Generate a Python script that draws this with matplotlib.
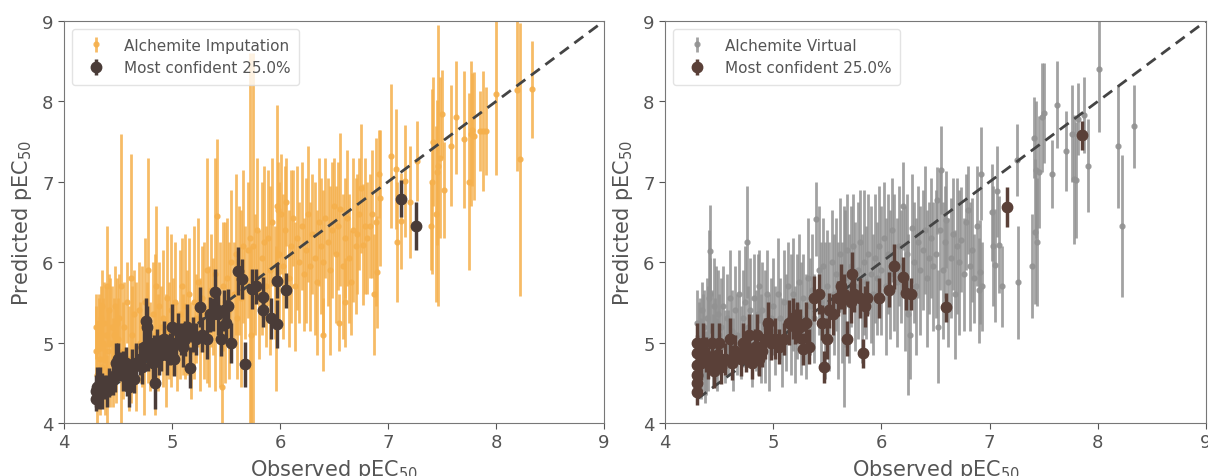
import matplotlib
matplotlib.use("Agg")
import matplotlib.pyplot as plt

# ---- left panel: Alchemite Imputation (all points) ----
imp_obs = [
    4.30, 4.30, 4.31, 4.32, 4.33, 4.34, 4.35, 4.36, 4.37, 4.38,
    4.39, 4.40, 4.41, 4.42, 4.43, 4.44, 4.45, 4.46, 4.47, 4.48,
    4.49, 4.50, 4.32, 4.35, 4.40,
    4.51, 4.53, 4.55, 4.56, 4.58, 4.60, 4.62, 4.63, 4.65, 4.67,
    4.69, 4.70, 4.72, 4.74, 4.75, 4.77, 4.78, 4.80, 4.82, 4.84,
    4.85, 4.87, 4.88, 4.90, 4.92, 4.94, 4.95, 4.97, 4.99,
    5.01, 5.03, 5.05, 5.07, 5.09, 5.10, 5.12, 5.14, 5.16, 5.18,
    5.20, 5.22, 5.24, 5.26, 5.28, 5.30, 5.32, 5.34, 5.36, 5.38,
    5.40, 5.42, 5.44, 5.46, 5.47, 5.49,
    5.51, 5.53, 5.55, 5.57, 5.59, 5.60, 5.62, 5.64, 5.66, 5.68,
    5.70, 5.72, 5.75, 5.73, 5.77, 5.79, 5.81, 5.83, 5.85, 5.87,
    5.89, 5.91, 5.93, 5.95, 5.97, 5.99, 5.98, 5.96,
    6.01, 6.03, 6.05, 6.06, 6.08, 6.10, 6.12, 6.14, 6.16, 6.18,
    6.20, 6.22, 6.24, 6.26, 6.28, 6.30, 6.32, 6.34, 6.36, 6.38,
    6.40, 6.40, 6.42, 6.44, 6.46, 6.48, 6.50,
    6.52, 6.54, 6.56, 6.58, 6.60, 6.62, 6.64, 6.66, 6.68, 6.70,
    6.71, 6.73, 6.75, 6.77, 6.79, 6.81, 6.83, 6.85, 6.87, 6.89,
    6.90, 6.92, 6.93, 6.60, 6.55,
    7.03, 7.07, 7.08, 7.12, 7.16, 7.20, 7.27, 7.40, 7.41, 7.42,
    7.44, 7.45, 7.46, 7.48, 7.50, 7.52, 7.58, 7.63, 7.70, 7.75,
    7.77, 7.78, 7.80, 7.85, 7.88, 7.91, 8.00, 8.19, 8.22, 8.33,
]
imp_pred = [
    5.20, 4.90, 4.60, 5.10, 4.80, 5.30, 4.70, 5.00, 5.25, 4.55,
    5.10, 5.70, 4.90, 5.40, 5.00, 5.20, 4.75, 5.10, 5.45, 4.85,
    5.25, 5.05, 5.25, 5.45, 4.40,
    5.30, 5.70, 4.90, 5.20, 5.50, 4.80, 5.80, 5.10, 5.35, 4.95,
    5.40, 5.00, 5.20, 4.70, 5.50, 5.25, 5.90, 4.95, 5.35, 5.10,
    5.70, 5.00, 5.45, 5.20, 5.30, 4.90, 5.55, 5.15, 5.40,
    5.20, 5.50, 4.95, 5.35, 5.70, 5.10, 5.45, 5.25, 5.60, 4.90,
    5.50, 5.30, 5.75, 5.10, 5.55, 5.40, 5.90, 5.20, 5.65, 5.45,
    5.85, 6.58, 5.35, 4.45, 5.70, 5.50,
    5.80, 5.40, 6.00, 5.60, 6.10, 5.30, 5.90, 5.55, 6.20, 5.75,
    6.15, 6.30, 6.20, 5.10, 5.85, 6.40, 5.60, 6.05, 6.25, 5.70,
    6.30, 5.90, 6.50, 5.75, 6.70, 6.10, 6.65, 5.30,
    6.60, 5.95, 6.40, 6.75, 5.80, 6.20, 6.55, 5.70, 6.30, 6.00,
    6.45, 5.85, 6.15, 6.60, 5.95, 6.35, 6.05, 5.75, 6.50, 6.20,
    5.10, 6.00, 6.55, 6.25, 5.90, 6.40, 6.70,
    6.10, 6.45, 6.66, 5.95, 6.30, 6.55, 6.05, 5.75, 6.40, 6.20,
    6.35, 6.60, 6.92, 6.22, 6.45, 6.30, 6.45, 6.60, 5.60, 6.50,
    5.88, 7.10, 6.80, 5.50, 5.25,
    7.32, 7.16, 6.25, 6.51, 7.01, 6.75, 7.26, 6.45, 7.00, 7.50,
    6.60, 7.12, 7.20, 7.30, 7.84, 6.90, 7.45, 7.80, 7.53, 7.00,
    7.60, 7.65, 7.57, 7.63, 7.63, 7.63, 8.09, 8.14, 7.28, 8.15,
]
imp_err = [
    0.40, 0.55, 0.60, 0.45, 0.70, 0.40, 0.50, 0.55, 0.50, 0.45,
    0.60, 0.75, 0.50, 0.45, 0.80, 0.50, 0.55, 0.45, 0.50, 0.60,
    0.55, 0.50, 0.35, 0.45, 0.45,
    0.55, 1.90, 0.60, 0.55, 0.50, 0.65, 1.55, 0.60, 0.55, 0.80,
    0.60, 0.50, 0.75, 0.60, 0.80, 0.50, 1.40, 0.55, 0.65, 1.00,
    1.00, 0.60, 0.55, 0.50, 0.85, 0.70, 0.90, 0.60, 0.95,
    0.60, 0.75, 0.55, 0.80, 0.60, 0.50, 0.90, 0.65, 0.70, 0.60,
    0.95, 0.55, 0.80, 0.70, 0.65, 0.85, 1.40, 0.75, 0.70, 0.60,
    1.45, 0.95, 0.90, 0.60, 0.80, 1.00,
    0.75, 0.85, 0.90, 0.65, 1.00, 0.75, 0.80, 1.10, 0.95, 0.70,
    0.85, 2.30, 2.40, 1.10, 0.75, 0.90, 0.80, 0.95, 0.95, 0.75,
    0.85, 1.05, 0.80, 0.70, 1.25, 0.90, 0.60, 0.90,
    0.75, 0.90, 0.80, 0.55, 0.85, 0.95, 0.60, 0.80, 0.90, 0.75,
    0.80, 0.70, 0.90, 0.85, 0.80, 0.75, 0.95, 0.90, 0.80, 0.85,
    0.45, 0.90, 0.75, 0.80, 1.05, 0.85, 0.60,
    0.85, 0.80, 0.95, 0.90, 0.75, 0.85, 0.80, 0.65, 0.90, 0.85,
    0.75, 0.70, 0.80, 0.75, 0.85, 0.70, 0.65, 0.80, 0.75, 1.05,
    0.70, 0.55, 0.85, 0.55, 0.35,
    0.90, 0.75, 0.75, 0.60, 0.70, 0.70, 0.50, 0.55, 1.15, 0.80,
    1.10, 0.90, 1.75, 1.00, 0.55, 0.60, 0.75, 0.70, 0.85, 1.10,
    0.90, 0.70, 0.80, 0.50, 0.75, 0.55, 1.00, 1.00, 1.70, 0.60,
]

# most confident 25% (left)
conf_l_obs = [
    4.30, 4.30, 4.31, 4.32, 4.33, 4.35, 4.37, 4.40, 4.42, 4.45,
    4.47, 4.48, 4.50, 4.52, 4.55, 4.57, 4.58, 4.60, 4.62, 4.63,
    4.65, 4.67, 4.70, 4.72, 4.74, 4.76, 4.77, 4.78, 4.80, 4.82,
    4.83, 4.84, 4.86, 4.88, 4.90, 4.93, 4.95, 4.98, 5.00, 5.02,
    5.04, 5.06, 5.08, 5.10, 5.12, 5.14, 5.17, 5.19, 5.22, 5.26,
    5.28, 5.32, 5.35, 5.38, 5.40, 5.43, 5.45, 5.48, 5.50, 5.52,
    5.55, 5.61, 5.65, 5.68, 5.74, 5.78, 5.84, 5.84, 5.92, 5.97,
    5.97, 6.06, 7.12, 7.26,
]
conf_l_pred = [
    4.30, 4.40, 4.45, 4.35, 4.50, 4.40, 4.45, 4.40, 4.50, 4.55,
    4.60, 4.75, 4.80, 4.70, 4.65, 4.75, 4.55, 4.45, 4.60, 4.70,
    4.55, 4.75, 4.80, 4.70, 4.95, 5.27, 5.20, 4.85, 5.00, 4.75,
    4.90, 4.50, 4.95, 4.85, 4.85, 5.05, 4.85, 4.92, 5.20, 4.80,
    5.00, 5.15, 5.05, 4.95, 5.05, 5.20, 4.69, 5.10, 5.05, 5.44,
    5.10, 5.05, 5.35, 5.35, 5.63, 5.35, 5.05, 5.40, 5.25, 5.45,
    5.00, 5.89, 5.79, 4.73, 5.67, 5.70, 5.57, 5.41, 5.30, 5.77,
    5.23, 5.65, 6.79, 6.45,
]
conf_l_err = [
    0.15, 0.20, 0.25, 0.18, 0.20, 0.22, 0.15, 0.20, 0.18, 0.20,
    0.22, 0.25, 0.20, 0.18, 0.25, 0.20, 0.22, 0.25, 0.20, 0.22,
    0.18, 0.25, 0.20, 0.22, 0.25, 0.28, 0.25, 0.20, 0.22, 0.25,
    0.20, 0.32, 0.22, 0.25, 0.20, 0.22, 0.25, 0.20, 0.28, 0.22,
    0.25, 0.22, 0.20, 0.25, 0.22, 0.28, 0.25, 0.22, 0.20, 0.25,
    0.22, 0.25, 0.22, 0.20, 0.28, 0.25, 0.22, 0.25, 0.20, 0.22,
    0.25, 0.30, 0.25, 0.28, 0.25, 0.22, 0.25, 0.22, 0.25, 0.22,
    0.30, 0.22, 0.23, 0.30,
]

# ---- right panel: Alchemite Virtual (all points) ----
virt_obs = [
    4.30, 4.31, 4.32, 4.33, 4.34, 4.35, 4.36, 4.38, 4.39, 4.40,
    4.41, 4.42, 4.43, 4.44, 4.45, 4.46, 4.47, 4.48, 4.49, 4.50,
    4.37, 4.42,
    4.52, 4.54, 4.55, 4.57, 4.58, 4.60, 4.62, 4.63, 4.65, 4.67,
    4.68, 4.70, 4.72, 4.74, 4.76, 4.77, 4.79, 4.80, 4.82, 4.84,
    4.86, 4.87, 4.89, 4.90, 4.92, 4.94, 4.96, 4.98,
    5.00, 5.02, 5.04, 5.06, 5.08, 5.10, 5.12, 5.14, 5.16, 5.18,
    5.20, 5.22, 5.24, 5.26, 5.28, 5.30, 5.32, 5.34, 5.36, 5.38,
    5.40, 5.42, 5.44, 5.46, 5.48,
    5.50, 5.52, 5.54, 5.56, 5.58, 5.60, 5.62, 5.64, 5.65, 5.66,
    5.68, 5.70, 5.72, 5.74, 5.76, 5.78, 5.80, 5.82, 5.84, 5.86,
    5.88, 5.90, 5.92, 5.94, 5.96, 5.98,
    6.00, 6.02, 6.04, 6.06, 6.08, 6.10, 6.12, 6.14, 6.16, 6.18,
    6.20, 6.22, 6.24, 6.25, 6.26, 6.28, 6.30, 6.32, 6.34, 6.36,
    6.38, 6.40, 6.42, 6.44, 6.46, 6.48,
    6.50, 6.51, 6.52, 6.54, 6.55, 6.57, 6.59, 6.60, 6.62, 6.64,
    6.66, 6.68, 6.70, 6.72, 6.74, 6.76, 6.78, 6.80, 6.82, 6.84,
    6.86, 6.88, 6.90, 6.91, 6.92, 6.93,
    7.02, 7.03, 7.05, 7.07, 7.09, 7.11, 7.25, 7.26, 7.39, 7.41,
    7.42, 7.43, 7.44, 7.46, 7.48, 7.50, 7.58, 7.62, 7.71, 7.76,
    7.78, 7.80, 7.82, 7.87, 7.91, 8.01, 8.19, 8.22, 8.33,
]
virt_pred = [
    5.25, 4.95, 5.10, 4.80, 5.40, 5.00, 5.20, 4.75, 5.30, 5.05,
    5.55, 6.14, 5.15, 4.90, 5.45, 5.00, 5.25, 4.85, 5.35, 5.10,
    4.60, 5.60,
    5.20, 5.45, 4.95, 5.30, 5.00, 5.55, 5.15, 4.85, 5.40, 5.10,
    5.60, 5.00, 5.30, 5.50, 6.25, 5.20, 5.40, 4.90, 5.55, 5.15,
    5.35, 5.70, 5.05, 5.40, 5.20, 5.60, 5.00, 5.30,
    5.45, 5.15, 5.60, 5.30, 5.00, 5.50, 5.25, 5.70, 5.35, 5.60,
    5.10, 5.45, 5.75, 5.30, 5.55, 5.20, 5.80, 5.45, 5.65, 5.30,
    6.54, 5.90, 5.50, 5.95, 5.40,
    5.70, 5.45, 6.00, 5.60, 5.85, 5.40, 6.10, 5.50, 5.45, 5.80,
    6.15, 5.55, 5.95, 6.20, 5.70, 5.90, 6.25, 5.55, 6.00, 5.75,
    6.10, 5.85, 5.60, 6.05, 5.80, 6.20,
    5.90, 6.30, 5.70, 6.10, 5.85, 6.40, 6.00, 5.75, 6.20, 5.95,
    6.70, 5.80, 6.10, 5.35, 5.10, 6.42, 6.00, 5.70, 6.25, 5.90,
    6.15, 6.40, 5.80, 6.05, 6.30, 5.95,
    6.10, 6.77, 5.20, 6.40, 7.15, 5.90, 6.25, 6.53, 5.75, 6.05,
    6.35, 5.60, 6.20, 6.00, 6.28, 5.85, 6.50, 6.65, 5.95, 6.15,
    5.80, 6.45, 5.65, 5.88, 7.10, 5.70,
    6.62, 6.20, 5.96, 6.88, 6.22, 5.70, 7.27, 5.75, 5.95, 7.55,
    6.38, 7.15, 6.25, 7.12, 7.80, 7.86, 7.10, 7.96, 7.38, 7.60,
    7.03, 7.02, 7.78, 7.83, 7.20, 8.40, 7.44, 6.45, 7.69,
]
virt_err = [
    0.40, 0.55, 0.45, 0.50, 0.35, 0.60, 0.45, 0.40, 0.50, 0.65,
    0.85, 0.57, 0.50, 0.45, 0.60, 0.55, 0.70, 0.45, 0.55, 0.50,
    0.35, 0.45,
    0.60, 0.50, 0.45, 0.55, 0.40, 0.60, 0.50, 0.45, 0.55, 0.50,
    0.55, 0.45, 0.60, 0.70, 0.70, 0.50, 0.65, 0.45, 0.55, 0.50,
    0.75, 0.45, 0.55, 0.60, 0.70, 0.55, 0.60, 0.50,
    0.60, 0.55, 0.70, 0.50, 0.55, 0.65, 0.60, 0.55, 0.75, 0.70,
    0.60, 0.65, 0.60, 0.70, 0.55, 0.65, 0.75, 0.60, 0.70, 0.55,
    0.46, 0.80, 0.75, 0.60, 0.85,
    0.70, 0.80, 0.65, 0.75, 0.70, 0.85, 0.70, 0.75, 1.25, 0.85,
    0.70, 0.80, 0.75, 0.65, 0.80, 0.85, 0.65, 0.80, 0.90, 0.70,
    0.75, 0.85, 0.75, 0.80, 0.70, 0.75,
    0.80, 0.70, 0.85, 0.75, 0.80, 0.65, 0.85, 0.80, 0.75, 0.70,
    0.55, 0.90, 0.75, 1.00, 0.55, 0.68, 0.75, 0.85, 0.70, 0.80,
    0.75, 0.80, 0.85, 0.70, 0.75, 0.80,
    0.80, 0.42, 0.70, 0.75, 0.55, 0.85, 0.70, 0.60, 0.80, 0.75,
    0.70, 0.80, 0.85, 0.90, 0.65, 0.70, 0.60, 0.55, 0.80, 0.65,
    0.55, 0.75, 0.65, 0.65, 0.58, 0.55,
    0.60, 0.75, 0.70, 0.57, 0.60, 0.50, 0.45, 0.70, 0.65, 0.50,
    0.90, 0.85, 0.80, 0.70, 0.68, 0.62, 0.42, 0.54, 0.50, 0.60,
    0.80, 0.72, 0.45, 0.47, 0.58, 0.78, 0.77, 0.88, 0.52,
]

# most confident 25% (right)
conf_r_obs = [
    4.30, 4.30, 4.30, 4.30, 4.30, 4.30, 4.33, 4.35, 4.38, 4.40,
    4.43, 4.45, 4.48, 4.50, 4.52, 4.55, 4.60, 4.62, 4.65, 4.70,
    4.72, 4.75, 4.78, 4.80, 4.83, 4.85, 4.87, 4.90, 4.92, 4.95,
    4.98, 5.02, 5.05, 5.10, 5.15, 5.18, 5.20, 5.22, 5.25, 5.28,
    5.30, 5.33, 5.38, 5.42, 5.45, 5.47, 5.50, 5.52, 5.55, 5.60,
    5.63, 5.65, 5.68, 5.72, 5.73, 5.75, 5.80, 5.83, 5.85, 5.87,
    5.98, 6.07, 6.12, 6.20, 6.23, 6.27, 6.60, 7.16, 7.85,
]
conf_r_pred = [
    4.38, 4.50, 4.60, 4.72, 4.87, 5.00, 4.75, 5.00, 4.85, 4.75,
    5.00, 4.65, 4.85, 5.00, 4.70, 4.80, 5.05, 4.75, 4.90, 4.80,
    5.00, 4.85, 5.10, 4.75, 4.95, 5.10, 4.80, 4.90, 5.05, 5.25,
    5.00, 5.05, 4.95, 5.05, 5.25, 5.30, 5.20, 5.25, 5.20, 4.92,
    5.25, 4.95, 5.55, 5.60, 5.25, 4.70, 5.05, 5.40, 5.35, 5.55,
    5.70, 5.60, 5.05, 5.50, 5.85, 5.60, 5.55, 4.87, 5.45, 5.55,
    5.55, 5.66, 5.95, 5.82, 5.62, 5.60, 5.44, 6.69, 7.58,
]
conf_r_err = [
    0.15, 0.18, 0.20, 0.20, 0.22, 0.25, 0.22, 0.25, 0.22, 0.20,
    0.25, 0.22, 0.20, 0.25, 0.22, 0.20, 0.25, 0.22, 0.20, 0.22,
    0.25, 0.22, 0.25, 0.20, 0.22, 0.25, 0.22, 0.20, 0.25, 0.25,
    0.22, 0.25, 0.22, 0.20, 0.28, 0.25, 0.22, 0.25, 0.22, 0.20,
    0.25, 0.22, 0.28, 0.25, 0.22, 0.20, 0.25, 0.22, 0.25, 0.22,
    0.28, 0.25, 0.22, 0.25, 0.28, 0.22, 0.25, 0.18, 0.25, 0.22,
    0.25, 0.22, 0.28, 0.25, 0.22, 0.20, 0.18, 0.25, 0.18,
]

text_col = "#555555"

fig = plt.figure(figsize=(12.08, 4.77), dpi=100)
ax1 = fig.add_axes([64 / 1208, 53 / 477, 540 / 1208, 402 / 477])
ax2 = fig.add_axes([665 / 1208, 53 / 477, 541 / 1208, 402 / 477])


def panel(ax, obs, pred, err, col, label, c_obs, c_pred, c_err, dark):
    ax.errorbar(obs, pred, yerr=err, fmt="o", ms=3.5, color=col,
                elinewidth=2, alpha=0.85, label=label, zorder=2)
    ax.plot([4.3, 9], [4.3, 9], linestyle="--", color="#444444", lw=2,
            dashes=(4, 2.5), zorder=2.5)
    ax.errorbar(c_obs, c_pred, yerr=c_err, fmt="o", ms=7.5, color=dark,
                elinewidth=2.5, label="Most confident 25.0%", zorder=3)
    ax.set_xlim(4, 9)
    ax.set_ylim(4, 9)
    ax.set_xticks([4, 5, 6, 7, 8, 9])
    ax.set_yticks([4, 5, 6, 7, 8, 9])
    ax.tick_params(labelsize=13, colors=text_col, length=4)
    for s in ax.spines.values():
        s.set_color("#777777")
    ax.set_xlabel("Observed pEC$_{50}$", fontsize=15, color=text_col)
    ax.set_ylabel("Predicted pEC$_{50}$", fontsize=15, color=text_col,
                  labelpad=6)
    leg = ax.legend(loc="upper left", fontsize=11, framealpha=0.8,
                    edgecolor="#dddddd", borderpad=0.6)
    for t in leg.get_texts():
        t.set_color(text_col)


panel(ax1, imp_obs, imp_pred, imp_err, "#F5B04C", "Alchemite Imputation",
      conf_l_obs, conf_l_pred, conf_l_err, "#4A3C38")
panel(ax2, virt_obs, virt_pred, virt_err, "#929292", "Alchemite Virtual",
      conf_r_obs, conf_r_pred, conf_r_err, "#5A4038")

fig.savefig("out.png", dpi=100)
